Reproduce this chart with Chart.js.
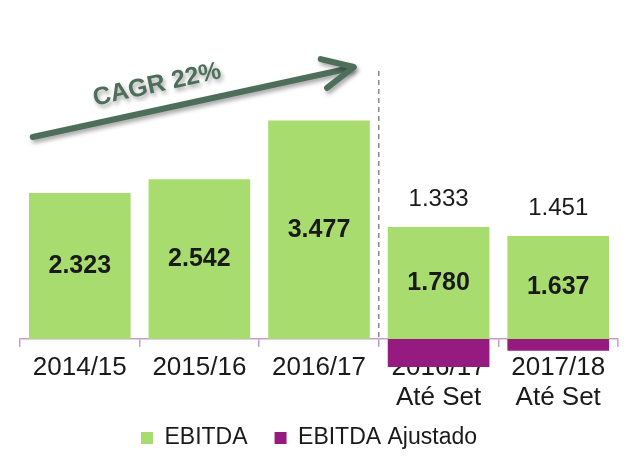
<!DOCTYPE html>
<html>
<head>
<meta charset="utf-8">
<script src="https://cdn.jsdelivr.net/npm/chart.js@4"></script>
<style>
  body { margin: 0; background: #fff; }
  #wrap { width: 627px; height: 466px; }
</style>
</head>
<body>
<div id="wrap"><canvas id="ebitdaChart"></canvas></div>
<script>
var categories = [["2014/15"], ["2015/16"], ["2016/17"], ["2016/17", "Até Set"], ["2017/18", "Até Set"]];
var ebitda = [2323, 2542, 3477, 1780, 1637];
var ajustado = [null, null, null, -447, -186];
var totals = [null, null, null, 1333, 1451];

function fmt(v) {
  return (v / 1000).toFixed(3);
}

// labels, dashed divider and the CAGR arrow
var extras = {
  id: 'extras',
  afterLayout: function(chart) {
    // let the two-line tick labels run below the shrunk axis box
    chart.scales.x.bottom = chart.height;
  },
  afterDatasetsDraw: function(chart) {
    var ctx = chart.ctx;
    var area = chart.chartArea;
    var xs = chart.scales.x;
    var bars = chart.getDatasetMeta(0).data;

    ctx.save();
    ctx.fillStyle = '#1a1a1a';
    ctx.textAlign = 'center';
    ctx.textBaseline = 'middle';
    bars.forEach(function(b, i) {
      ctx.font = 'bold 25px "Liberation Sans", Arial';
      ctx.fillText(fmt(ebitda[i]), b.x, (b.y + b.base) / 2);
      if (totals[i] != null) {
        ctx.font = '24px "Liberation Sans", Arial';
        ctx.fillText(fmt(totals[i]), b.x, b.y - 28);
      }
    });

    // divider between full years and partial years
    var dx = (xs.getPixelForValue(2) + xs.getPixelForValue(3)) / 2;
    ctx.strokeStyle = '#6d6d6d';
    ctx.lineWidth = 1.2;
    ctx.setLineDash([5, 4]);
    ctx.beginPath();
    ctx.moveTo(dx, area.top + 40);
    ctx.lineTo(dx, area.bottom);
    ctx.stroke();
    ctx.setLineDash([]);

    // arrow
    var x0 = xs.getPixelForValue(0) - 47, y0 = 137;
    var x1 = dx - 25, y1 = 67;
    var ang = Math.atan2(y1 - y0, x1 - x0);
    ctx.shadowColor = 'rgba(0,0,0,0.35)';
    ctx.shadowBlur = 4;
    ctx.shadowOffsetX = 2;
    ctx.shadowOffsetY = 3;
    ctx.strokeStyle = '#4d6e5b';
    ctx.lineWidth = 6;
    ctx.lineCap = 'round';
    ctx.lineJoin = 'round';
    ctx.beginPath();
    ctx.moveTo(x0, y0);
    ctx.lineTo(x1 - 3, y1 + 1);
    ctx.stroke();
    ctx.beginPath();
    var len = 34, spread = 0.45;
    ctx.moveTo(x1 - len * Math.cos(ang - spread), y1 - len * Math.sin(ang - spread));
    ctx.lineTo(x1, y1);
    ctx.lineTo(x1 - len * Math.cos(ang + spread), y1 - len * Math.sin(ang + spread));
    ctx.stroke();

    ctx.translate(157, 85);
    ctx.rotate(ang);
    ctx.fillStyle = '#4d6e5b';
    ctx.font = 'bold 25px "Liberation Sans", Arial';
    ctx.fillText('CAGR 22%', 0, 0);
    ctx.restore();
  }
};

new Chart(document.getElementById('ebitdaChart'), {
  type: 'bar',
  data: {
    labels: categories,
    datasets: [{
      label: 'EBITDA',
      data: ebitda,
      backgroundColor: '#a9dc6e',
      categoryPercentage: 1,
      barPercentage: 0.85
    }, {
      label: 'EBITDA Ajustado',
      data: ajustado,
      backgroundColor: '#951b81',
      categoryPercentage: 1,
      barPercentage: 0.85,
      clip: false
    }]
  },
  options: {
    responsive: true,
    maintainAspectRatio: false,
    animation: false,
    layout: { padding: { top: 31, left: 0, right: 9, bottom: 6.5 } },
    plugins: {
      legend: {
        position: 'bottom',
        labels: {
          boxWidth: 12,
          boxHeight: 12,
          padding: 27,
          color: '#1a1a1a',
          font: { family: '"Liberation Sans", Arial', size: 23 }
        }
      },
      tooltip: { enabled: false }
    },
    scales: {
      x: {
        stacked: true,
        z: 1,
        border: { color: '#c69dc6', width: 1.5 },
        grid: { offset: true, drawOnChartArea: false, tickLength: 8, color: '#c69dc6', lineWidth: 1.5 },
        ticks: {
          color: '#1a1a1a',
          padding: 6,
          font: { family: '"Liberation Sans", Arial', size: 26, lineHeight: 1.15 }
        },
        afterFit: function(scale) { scale.height = 60.5; }
      },
      y: {
        stacked: true,
        min: 0,
        max: 4900,
        grid: { display: false },
        border: { display: false },
        ticks: { display: false },
        afterFit: function(scale) { scale.width = 20; }
      }
    }
  },
  plugins: [extras]
});
</script>
</body>
</html>
